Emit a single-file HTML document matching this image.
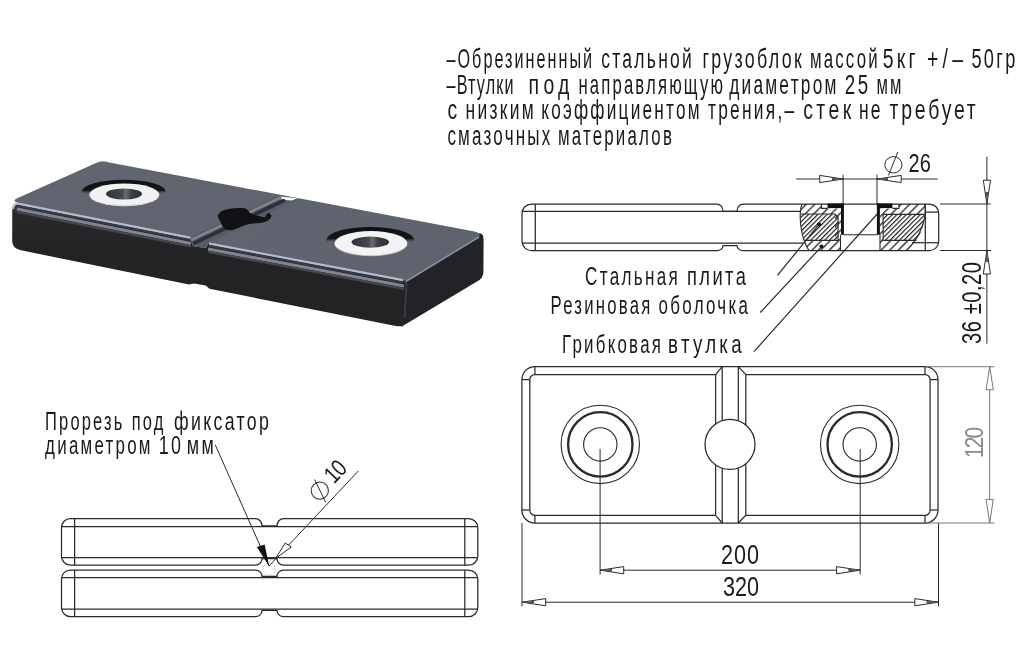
<!DOCTYPE html>
<html><head><meta charset="utf-8">
<style>
html,body{margin:0;padding:0;background:#fff;}
body{width:1024px;height:648px;overflow:hidden;}
svg{display:block;will-change:transform;}
text{font-family:"Liberation Sans",sans-serif;fill:#1a1a1a;stroke:none;}
</style></head>
<body>
<svg width="1024" height="648" viewBox="0 0 1024 648">
<defs>
  <pattern id="hs" patternUnits="userSpaceOnUse" width="6.1" height="6.1" patternTransform="rotate(45)">
    <line x1="0.8" y1="0" x2="0.8" y2="6.1" stroke="#1a1a1a" stroke-width="1.25"/>
  </pattern>
  <pattern id="hd" patternUnits="userSpaceOnUse" width="3.3" height="3.3" patternTransform="rotate(45)">
    <line x1="0.6" y1="0" x2="0.6" y2="3.3" stroke="#111" stroke-width="1.1"/>
  </pattern>
</defs>
<rect width="1024" height="648" fill="#fff"/>

<g id="r3d">
  <defs>
    <linearGradient id="gFront" gradientUnits="userSpaceOnUse" x1="0" y1="205" x2="0" y2="250">
      <stop offset="0" stop-color="#2a2a2d"/>
      <stop offset="1" stop-color="#232325"/>
    </linearGradient>
    <linearGradient id="gTop" gradientUnits="userSpaceOnUse" x1="100" y1="160" x2="400" y2="280">
      <stop offset="0" stop-color="#61656f"/>
      <stop offset="1" stop-color="#5f636e"/>
    </linearGradient>
    <linearGradient id="gRecess" x1="0" y1="0" x2="0" y2="1">
      <stop offset="0" stop-color="#0f1013"/>
      <stop offset="0.45" stop-color="#15161a"/>
      <stop offset="0.62" stop-color="#61656f" stop-opacity="0"/>
    </linearGradient>
    <linearGradient id="gHole" x1="0" y1="0" x2="1" y2="0">
      <stop offset="0" stop-color="#2f3239"/>
      <stop offset="0.45" stop-color="#454850"/>
      <stop offset="0.55" stop-color="#6a6c72"/>
      <stop offset="0.7" stop-color="#3c3f46"/>
      <stop offset="1" stop-color="#2c2f36"/>
    </linearGradient>
  </defs>
  <!-- right face -->
  <path d="M398,282 L476,234.5 Q483.5,230.5 483.6,240 L483.4,272 Q483.2,278.5 477,281.5 L401,327 Z" fill="#222326"/>
  <!-- front face -->
  <path d="M12.2,211 Q12.2,202.3 19,202.8 L190.5,237 L193,246 L206,248 L208.5,242.5 L403,279 Q407.5,280 407,285 L404.5,321 Q404,327 397,326.3 L209.5,288.8 L205.7,285.4 L194,283.4 L189,284.4 L21,250.3 Q12.3,248.7 12.2,241 Z" fill="url(#gFront)"/>
  <!-- top face (both blocks + groove area) -->
  <path d="M96,163 Q101.6,159.8 108,162.2 L474.5,231.5 Q483,233.5 477.5,238.5 L410,279.6 Q406,281.6 400.5,280.6 L208.5,242.5 L206,248 L193,246 L190.5,237 L19,202.9 Q12.5,202 15.5,199 Z" fill="url(#gTop)"/>
  <!-- groove floor -->
  <path d="M279,195.7 L297.8,198.5 L208.5,242.5 L206,248 L193,246 L190.5,237 Z" fill="#575b66"/>
  <!-- groove details -->
  <path d="M280,196.4 L297.5,198.2 L292,200.6 L281.5,199.8 Z" fill="#fff"/>
  <g fill="none" stroke-linecap="round">
    <path d="M280.5,197.6 L191.8,239.6" stroke="#80848f" stroke-width="2.6"/>
    <path d="M283.5,200.6 L194.5,243" stroke="#2d3038" stroke-width="3.6"/>
    <path d="M296.5,199.5 L209,244" stroke="#5a5e69" stroke-width="1"/>
  </g>
  <!-- front bevels -->
  <g fill="none" stroke-linecap="butt">
    <path d="M13.2,209 Q13.6,203.2 19,203.8 L190.5,237.8" stroke="#b6bccb" stroke-width="2.2"/>
    <path d="M15.5,211 Q16,206 20,206.3 L190.5,240.2" stroke="#363c4a" stroke-width="1.8"/>
    <path d="M17,209 L191,243.5" stroke="#80858f" stroke-width="3.2"/>
    <path d="M17,211.8 L191,246.3" stroke="#45474d" stroke-width="2.2"/>
    <path d="M209,243.6 L403,280.2" stroke="#b6bccb" stroke-width="2.2"/>
    <path d="M209,246 L403,282.6" stroke="#363c4a" stroke-width="1.8"/>
    <path d="M208,249 L404,286" stroke="#80858f" stroke-width="3.2"/>
    <path d="M208,251.8 L404,288.8" stroke="#45474d" stroke-width="2.2"/>
    <path d="M405,282 L479,237" stroke="#8a8e9a" stroke-width="1.6"/>
    <path d="M404,281 Q407,282 406.5,286 L404.5,318" stroke="#3c3e45" stroke-width="1.8"/>
  </g>
  <!-- washers -->
  <ellipse cx="123.7" cy="191.6" rx="42" ry="11.8" fill="url(#gRecess)"/>
  <ellipse cx="124.3" cy="194.8" rx="35" ry="11.4" fill="#f1f1f2"/>
  <path d="M89.5,195.5 A35,11.4 0 0 0 159.3,195.5 A35,10.2 0 0 1 89.5,195.5 Z" fill="#c9cacd" opacity="0.7"/>
  <ellipse cx="124" cy="194" rx="18" ry="5.5" fill="url(#gHole)"/>
  <ellipse cx="370.3" cy="239.9" rx="44" ry="13" fill="url(#gRecess)"/>
  <ellipse cx="370.9" cy="243.4" rx="36.5" ry="12.3" fill="#f3f3f4"/>
  <path d="M334.4,244 A36.5,12.3 0 0 0 407.4,244 A36.5,11 0 0 1 334.4,244 Z" fill="#c9cacd" opacity="0.7"/>
  <ellipse cx="370.3" cy="242.1" rx="18.8" ry="5.6" fill="url(#gHole)"/>
  <!-- slot hole -->
  <path d="M217.5,216.1 C219,213 221,211.5 223,210.6 C226,209.3 230.8,208.7 234,208.3 L240.2,207.9 C243,208 245.5,208.2 246.4,208.9 C248,210 249,212 250.3,213 C252,214.2 253.5,214.8 255.8,215.3 L264.4,217.4 C265.5,216.5 266,214.5 267.5,213.4 C269,212.8 270.6,213.5 271.2,215 C271.8,217 270,219.5 267.5,220.8 C264.5,222.2 262,222.8 259.7,223.1 L248.75,223.9 C245,224.6 242,226.5 238.6,227.8 C236,229 233.5,230 231.6,230.2 C228,230.3 225.5,229.5 223.75,227.8 C222,226 221.3,224 220.6,222.3 Z" fill="#121114"/>
</g>

<!-- ===== TOP TEXT ===== -->
<g id="toptext">
<text transform="translate(446.5,67.5) scale(0.600,1)" font-size="27" letter-spacing="3.35">–Обрезиненный</text>
<text transform="translate(601.2,67.5) scale(0.648,1)" font-size="27" letter-spacing="3.50">стальной</text>
<text transform="translate(702.4,67.5) scale(0.661,1)" font-size="27" letter-spacing="3.50">грузоблок</text>
<text transform="translate(810.0,67.5) scale(0.623,1)" font-size="27" letter-spacing="3.50">массой</text>
<text transform="translate(882.7,67.5) scale(0.720,1)" font-size="27" letter-spacing="4.50">5кг</text>
<text transform="translate(927.0,67.5) scale(0.720,1)" font-size="27" letter-spacing="5.92">+/–</text>
<text transform="translate(971.4,67.5) scale(0.673,1)" font-size="27" letter-spacing="3.50">50гр</text>
<text transform="translate(446.5,93.5) scale(0.600,1)" font-size="27" letter-spacing="1.94">–Втулки</text>
<text transform="translate(528.6,93.5) scale(0.720,1)" font-size="27" letter-spacing="5.93">под</text>
<text transform="translate(578.4,93.5) scale(0.619,1)" font-size="27" letter-spacing="3.50">направляющую</text>
<text transform="translate(729.2,93.5) scale(0.640,1)" font-size="27" letter-spacing="3.50">диаметром</text>
<text transform="translate(844.8,93.5) scale(0.695,1)" font-size="27" letter-spacing="3.50">25</text>
<text transform="translate(876.4,93.5) scale(0.615,1)" font-size="27" letter-spacing="3.50">мм</text>
<text transform="translate(447.4,118.8) scale(0.720,1)" font-size="27" letter-spacing="0.00">с</text>
<text transform="translate(465.6,118.8) scale(0.646,1)" font-size="27" letter-spacing="3.50">низким</text>
<text transform="translate(541.2,118.8) scale(0.638,1)" font-size="27" letter-spacing="3.50">коэффициентом</text>
<text transform="translate(708.0,118.8) scale(0.643,1)" font-size="27" letter-spacing="3.50">трения,–</text>
<text transform="translate(803.2,118.8) scale(0.720,1)" font-size="27" letter-spacing="4.80">стек</text>
<text transform="translate(858.9,118.8) scale(0.649,1)" font-size="27" letter-spacing="3.50">не</text>
<text transform="translate(889.6,118.8) scale(0.720,1)" font-size="27" letter-spacing="3.84">требует</text>
<text transform="translate(447.4,144.6) scale(0.631,1)" font-size="27" letter-spacing="3.50">смазочных</text>
<text transform="translate(557.9,144.6) scale(0.626,1)" font-size="27" letter-spacing="3.50">материалов</text>
</g>

<!-- ===== SIDE VIEW (top right) ===== -->
<g id="side" fill="none" stroke="#2a2a2a" stroke-width="1.25">
  <!-- outline -->
  <path d="M531.5,204 H717 A6,7.4 0 0 1 723,211.4 H737 A6,7.4 0 0 1 743,204 H929.5 A9.2,9.2 0 0 1 938.7,213.2 V241.4 A9.2,9.2 0 0 1 929.5,250.6 H743 A6,5.1 0 0 1 737,245.5 H723 A6,5.1 0 0 1 717,250.6 H531.5 A9.5,9.5 0 0 1 522,241.1 V213.5 A9.5,9.5 0 0 1 531.5,204 Z"/>
  <line x1="535.3" y1="204" x2="535.3" y2="250.6"/>
  <line x1="925.3" y1="204" x2="925.3" y2="250.6"/>
  <line x1="522" y1="211.4" x2="801" y2="211.4"/>
  <line x1="522" y1="243.1" x2="804" y2="243.1"/>
  <line x1="925.3" y1="212.1" x2="938.7" y2="212.1"/>
  <line x1="912" y1="242.7" x2="938.7" y2="242.7"/>
</g>

<g id="sect">
  <clipPath id="rubL"><path d="M802,204 C799,211 799,235 809,250.6 H840.5 V234.8 H841 V208.4 H821.5 V204 Z"/></clipPath>
  <clipPath id="rubR"><path d="M925,204 C927,215 922,236 906.3,250.6 H880 V234.8 H879.9 V208.4 H898.9 V204 Z"/></clipPath>
  <clipPath id="stL"><path d="M801,214 H835 L838.1,217 V240.4 H804.5 C800.5,232 800,222 801,214 Z"/></clipPath>
  <clipPath id="stR"><path d="M883.1,214.4 H924.5 C925,222 922,232 916.5,240.4 H883.1 Z"/></clipPath>
  <rect x="795" y="200" width="140" height="55" fill="url(#hs)" clip-path="url(#rubL)"/>
  <rect x="795" y="200" width="140" height="55" fill="url(#hs)" clip-path="url(#rubR)"/>
  <rect x="795" y="210" width="40" height="35" fill="#fff" clip-path="url(#stL)"/>
  <rect x="880" y="210" width="50" height="35" fill="#fff" clip-path="url(#stR)"/>
  <rect x="795" y="200" width="140" height="55" fill="url(#hd)" clip-path="url(#stL)"/>
  <rect x="795" y="200" width="140" height="55" fill="url(#hd)" clip-path="url(#stR)"/>
  <g fill="none" stroke="#2a2a2a" stroke-width="1.1">
    <path d="M802,204 C799,211 799,235 809,250.6"/>
    <path d="M925,204 C927,215 922,236 906.3,250.6"/>
    <path d="M801,214 H835 L838.1,217 V240.4 H804.5"/>
    <path d="M924.5,214.4 H883.1 V240.4 H916.5"/>
    <path d="M821.5,204 V208.4 H827.5"/>
    <path d="M898.9,204 V208.4 H892.4"/>
    <line x1="840.5" y1="234.8" x2="840.5" y2="250.6"/>
    <line x1="880" y1="234.8" x2="880" y2="250.6"/>
    <line x1="843.7" y1="234.8" x2="877" y2="234.8"/>
  </g>
  <g fill="#111">
    <rect x="827.5" y="203.5" width="16.2" height="4.6"/>
    <rect x="841" y="203.5" width="2.9" height="31.3"/>
    <rect x="876.9" y="203.5" width="15.5" height="4.6"/>
    <rect x="876.9" y="203.5" width="3" height="31.3"/>
    <circle cx="819.2" cy="224.4" r="2"/>
    <circle cx="821.5" cy="246.4" r="2"/>
  </g>
</g>

<g id="dims1" fill="none" stroke="#2a2a2a" stroke-width="1">
  <!-- phi 26 -->
  <line x1="796.3" y1="179" x2="937.7" y2="179"/>
  <line x1="843.1" y1="174.7" x2="843.1" y2="204"/>
  <line x1="877" y1="174.7" x2="877" y2="204"/>
  <path d="M843.1,179 L819.7,175.4 V182.6 Z" fill="#fff"/>
  <path d="M843.1,179 L832,177.6 V180.4 Z" fill="#555" stroke="none"/>
  <path d="M877,179 L901.2,175.4 V182.6 Z" fill="#fff"/>
  <path d="M877,179 L888,177.6 V180.4 Z" fill="#555" stroke="none"/>
  <ellipse cx="893.4" cy="164.8" rx="8.6" ry="8.2"/>
  <line x1="897.8" y1="152" x2="888.4" y2="175.5"/>
  <!-- 36 vertical -->
  <line x1="986.9" y1="156.8" x2="986.9" y2="343.7"/>
  <line x1="940" y1="204" x2="990.6" y2="204"/>
  <line x1="940" y1="250.5" x2="991" y2="250.5"/>
  <path d="M986.9,204 L983.3,180.2 H990.5 Z" fill="#fff"/>
  <path d="M986.9,204 L985.6,192 H988.2 Z" fill="#555" stroke="none"/>
  <path d="M986.9,250.5 L983.3,274 H990.5 Z" fill="#fff"/>
  <path d="M986.9,250.5 L985.6,262 H988.2 Z" fill="#555" stroke="none"/>
  <!-- leaders -->
  <line x1="777.5" y1="275.3" x2="819" y2="224.4" stroke-width="1.2"/>
  <line x1="760.3" y1="312.5" x2="821.5" y2="246.6" stroke-width="1.2"/>
  <line x1="754" y1="351.6" x2="877.2" y2="214" stroke-width="1.2"/>
</g>
<g id="labels1">
<text transform="translate(908.5,171.6) scale(0.8,1)" font-size="25" textLength="28.1" lengthAdjust="spacing">26</text>
<text transform="translate(980.5,344) rotate(-90) scale(0.72,1)" font-size="28" textLength="114" lengthAdjust="spacing">36 ±0,20</text>
<text transform="translate(585.1,285) scale(0.657,1)" font-size="26" letter-spacing="3.50">Стальная</text>
<text transform="translate(687.0,285) scale(0.702,1)" font-size="26" letter-spacing="3.50">плита</text>
<text transform="translate(550.5,313.8) scale(0.643,1)" font-size="26" letter-spacing="3.50">Резиновая</text>
<text transform="translate(658.6,313.8) scale(0.652,1)" font-size="26" letter-spacing="3.50">оболочка</text>
<text transform="translate(562.0,352.5) scale(0.648,1)" font-size="26" letter-spacing="3.50">Грибковая</text>
<text transform="translate(668.1,352.5) scale(0.720,1)" font-size="26" letter-spacing="4.55">втулка</text>
</g>

<!-- ===== TOP VIEW ===== -->
<g id="topv" fill="none" stroke="#2a2a2a" stroke-width="1.25">
  <path d="M534.9,366.6 H925 A13,13 0 0 1 938,379.6 V510 A13,13 0 0 1 925,523 H534.9 A13,13 0 0 1 521.9,510 V379.6 A13,13 0 0 1 534.9,366.6 Z"/>
  <!-- inner outline -->
  <path d="M534.9,374.6 H715.6 M745.8,374.6 H925 A5,5 0 0 1 930.1,379.6 V510 A5,5 0 0 1 925,515.3 H745.8 M715.6,515.3 H534.9 A5,5 0 0 1 529.8,510 V379.6 A5,5 0 0 1 534.9,374.6"/>
  <line x1="534.9" y1="366.6" x2="534.9" y2="374.6"/>
  <line x1="521.9" y1="379.6" x2="529.8" y2="379.6"/>
  <line x1="925" y1="366.6" x2="925" y2="374.6"/>
  <line x1="930.1" y1="379.6" x2="938" y2="379.6"/>
  <line x1="534.9" y1="523" x2="534.9" y2="515.3"/>
  <line x1="521.9" y1="510" x2="529.8" y2="510"/>
  <line x1="925" y1="523" x2="925" y2="515.3"/>
  <line x1="930.1" y1="510" x2="938" y2="510"/>
  <!-- groove -->
  <path d="M715.6,374.6 L722.2,366.6 M745.8,374.6 L738.3,366.6 M715.6,515.3 L722.2,523 M745.8,515.3 L738.3,523"/>
  <line x1="715.6" y1="374.6" x2="715.6" y2="515.3"/>
  <line x1="745.8" y1="374.6" x2="745.8" y2="515.3"/>
  <line x1="722.2" y1="366.6" x2="722.2" y2="523"/>
  <line x1="738.3" y1="366.6" x2="738.3" y2="523"/>
  <circle cx="730" cy="444.4" r="25" fill="#fff"/>
  <!-- holes -->
  <circle cx="600.3" cy="444.4" r="39.2" stroke-width="1.1"/>
  <circle cx="600.3" cy="444.4" r="32.2" stroke-width="2.3"/>
  <circle cx="600.3" cy="444.4" r="16.7" stroke-width="1.1"/>
  <circle cx="859.7" cy="444.4" r="39.2" stroke-width="1.1"/>
  <circle cx="859.7" cy="444.4" r="32.2" stroke-width="2.3"/>
  <circle cx="859.7" cy="444.4" r="16.7" stroke-width="1.1"/>
</g>
<g id="dims2" fill="none" stroke="#2a2a2a" stroke-width="1">
  <line x1="600.1" y1="449" x2="600.1" y2="574.5"/>
  <line x1="860.2" y1="449" x2="860.2" y2="574.5"/>
  <line x1="522" y1="523" x2="522" y2="606.3"/>
  <line x1="938.5" y1="523" x2="938.5" y2="606.3"/>
  <line x1="600.1" y1="570.2" x2="860.2" y2="570.2"/>
  <line x1="522" y1="602.2" x2="938.5" y2="602.2"/>
  <path d="M600.1,570.2 L623.7,566.6 V573.8 Z" fill="#fff"/>
  <path d="M860.2,570.2 L836.6,566.6 V573.8 Z" fill="#fff"/>
  <path d="M522,602.2 L545.7,598.6 V605.8 Z" fill="#fff"/>
  <path d="M938.5,602.2 L914.8,598.6 V605.8 Z" fill="#fff"/>
  <g fill="#555" stroke="none">
  <path d="M600.1,570.2 L612,568.8 V571.6 Z"/>
  <path d="M860.2,570.2 L848.3,568.8 V571.6 Z"/>
  <path d="M522,602.2 L534,600.8 V603.6 Z"/>
  <path d="M938.5,602.2 L926.5,600.8 V603.6 Z"/>
  </g>
  <g stroke="#777">
  <line x1="925" y1="366.7" x2="994.4" y2="366.7"/>
  <line x1="925" y1="523" x2="994.4" y2="523"/>
  <line x1="989.7" y1="366.7" x2="989.7" y2="523"/>
  <path d="M989.7,366.7 L986.1,389.7 H993.3 Z" fill="#fff"/>
  <path d="M989.7,523 L986.1,499.4 H993.3 Z" fill="#fff"/>
  </g>
</g>
<g id="nums">
<text transform="translate(721,564) scale(0.8,1)" font-size="27" textLength="47.5" lengthAdjust="spacing">200</text>
<text transform="translate(723,595.6) scale(0.8,1)" font-size="27" textLength="45.0" lengthAdjust="spacing">320</text>
<text transform="translate(983.3,458) rotate(-90) scale(0.8,1)" font-size="26" textLength="38.8" lengthAdjust="spacing" style="fill:#8a8a8a">120</text>
</g>

<g id="botl" fill="none" stroke="#2a2a2a" stroke-width="1.25">
  <!-- upper bar -->
  <path d="M70.5,518.6 H255.5 A6.5,7.3 0 0 1 262,525.9 H277 A6.5,7.3 0 0 1 283.5,518.6 H468.6 A9.2,9.2 0 0 1 477.8,527.8 V556 A9.2,9.2 0 0 1 468.6,565.2 H283.5 A6.5,6.5 0 0 1 277,558.7 H262 A6.5,6.5 0 0 1 255.5,565.2 H70.5 A9,9 0 0 1 61.5,556.2 V527.6 A9,9 0 0 1 70.5,518.6 Z"/>
  <line x1="61.5" y1="526.6" x2="477.8" y2="526.6"/>
  <line x1="61.5" y1="557.7" x2="477.8" y2="557.7"/>
  <line x1="74.6" y1="518.6" x2="74.6" y2="565.2"/>
  <line x1="464.8" y1="518.6" x2="464.8" y2="565.2"/>
  <!-- lower bar -->
  <path d="M70.5,570 H255.5 A6.5,6.3 0 0 1 262,576.3 H277 A6.5,6.3 0 0 1 283.5,570 H468.6 A9.2,9.2 0 0 1 477.8,579.2 V607.5 A9.2,9.2 0 0 1 468.6,616.7 H283.5 A6.5,6.3 0 0 1 277,610.4 H262 A6.5,6.3 0 0 1 255.5,616.7 H70.5 A9,9 0 0 1 61.5,607.7 V579 A9,9 0 0 1 70.5,570 Z"/>
  <line x1="61.5" y1="577.6" x2="477.8" y2="577.6"/>
  <line x1="61.5" y1="609" x2="477.8" y2="609"/>
  <line x1="74.6" y1="570" x2="74.6" y2="616.7"/>
  <line x1="464.8" y1="570" x2="464.8" y2="616.7"/>
  <circle cx="269.2" cy="569.2" r="6" stroke="#bbb" stroke-width="0.8" stroke-dasharray="1.5 1.5"/>
  <!-- leaders -->
  <line x1="215.3" y1="445" x2="269.2" y2="566.2" stroke-width="1"/>
  <path d="M269.2,566.2 L256.8,547.1 L264.6,544.5 Z" fill="#111" stroke="none"/>
  <line x1="358.4" y1="470.9" x2="269" y2="566" stroke-width="1"/>
  <path d="M275.8,558.2 L285.2,543 L291.3,547 Z" fill="#fff" stroke-width="1"/>
  <ellipse cx="319.8" cy="490.6" rx="8.6" ry="8.6" stroke-width="1" transform="rotate(-46 319.8 490.6)"/>
  <line x1="314.6" y1="479.5" x2="325.7" y2="502.3" stroke-width="1"/>
</g>
<g id="bltext">
<text transform="translate(45.1,429.5) scale(0.622,1)" font-size="26.5" letter-spacing="3.50">Прорезь</text>
<text transform="translate(131.8,429.5) scale(0.620,1)" font-size="26.5" letter-spacing="3.50">под</text>
<text transform="translate(174.0,429.5) scale(0.670,1)" font-size="26.5" letter-spacing="3.50">фиксатор</text>
<text transform="translate(45.1,454) scale(0.639,1)" font-size="26.5" letter-spacing="3.50">диаметром</text>
<text transform="translate(158.7,454) scale(0.676,1)" font-size="26.5" letter-spacing="3.50">10</text>
<text transform="translate(186.8,454) scale(0.676,1)" font-size="26.5" letter-spacing="3.50">мм</text>
<text transform="translate(334,484.5) rotate(-46) scale(0.8,1)" font-size="24" textLength="26" lengthAdjust="spacing">10</text>
</g>
</svg>
</body></html>
